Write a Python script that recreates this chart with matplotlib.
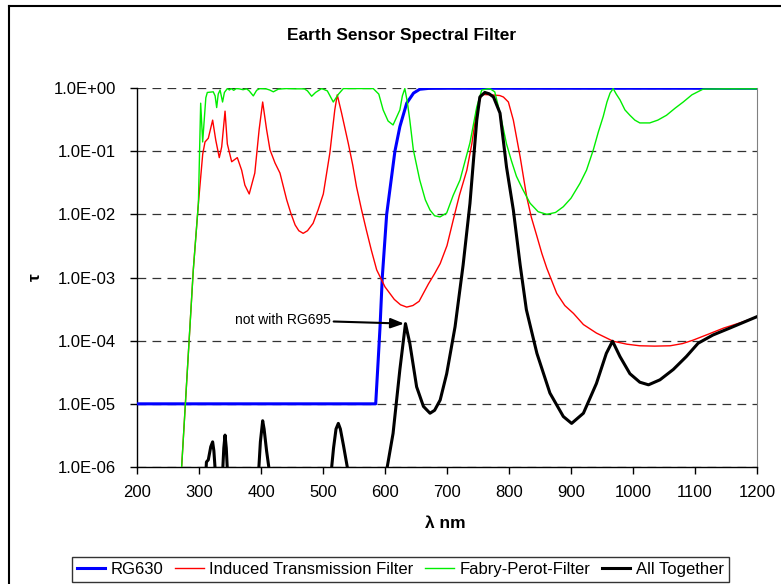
import numpy as np
import matplotlib
matplotlib.use("Agg")
import matplotlib.pyplot as plt
from matplotlib.ticker import FixedLocator, FuncFormatter, NullLocator
from matplotlib.lines import Line2D

plt.rcParams['font.family'] = ['Liberation Sans', 'DejaVu Sans']

# ---- spectral transmission data (wavelength in nm, transmission T) ----
rg630_nm = [200, 585, 589, 592, 595.6, 602.7, 616, 624, 635, 646, 656, 670, 700, 1200]
rg630_t = [1e-5, 1e-5, 4.9e-5, 1.66e-4, 1e-3, 1e-2, 0.1, 0.245, 0.575, 0.83, 0.955,
           0.985, 0.99, 0.99]

itf_nm = [266, 272, 290.8, 299, 306, 309.7, 315, 322, 327, 332.7, 336.6, 342, 345.7,
          352.7, 361.8, 368.8, 374, 381, 390, 397, 402.7, 409, 414.5, 422.6, 430.6,
          441.4, 448, 455, 461, 468, 475, 484, 492, 500.5, 511, 519, 523, 530, 541,
          548, 554, 562, 570, 578, 586.6, 600, 615, 625, 635, 645, 655, 670, 680,
          689, 700, 710, 720, 732, 740, 748, 756, 770, 785, 791, 799, 807, 818,
          828.5, 836, 845, 853, 861, 877, 890, 904, 920, 941, 968, 990, 1011, 1035,
          1060, 1080, 1097, 1120, 1146, 1175, 1200]
itf_t = [1e-7, 1e-6, 1.32e-3, 0.0148, 0.09, 0.14, 0.16, 0.31, 0.15, 0.079, 0.117,
         0.43, 0.13, 0.068, 0.079, 0.050, 0.029, 0.021, 0.045, 0.22, 0.60, 0.22,
         0.105, 0.065, 0.045, 0.017, 0.0105, 0.0068, 0.0055, 0.0050, 0.0055, 0.0072,
         0.0117, 0.021, 0.093, 0.45, 0.78, 0.40, 0.13, 0.06, 0.0275, 0.012, 0.0056,
         0.0027, 0.00132, 7.1e-4, 4.5e-4, 3.7e-4, 3.4e-4, 3.6e-4, 4.2e-4, 7.9e-4,
         1.15e-3, 1.66e-3, 3.2e-3, 8.1e-3, 0.02, 0.050, 0.13, 0.45, 0.79, 0.78,
         0.76, 0.72, 0.60, 0.31, 0.081, 0.019, 0.009, 0.0045, 0.0024, 0.0014,
         5.6e-4, 3.6e-4, 2.7e-4, 1.8e-4, 1.32e-4, 9.8e-5, 8.8e-5, 8.3e-5, 8.2e-5,
         8.3e-5, 9.0e-5, 1.02e-4, 1.25e-4, 1.58e-4, 1.95e-4, 2.4e-4]

fp_nm = [266, 272, 290.8, 299, 302.7, 305.9, 311, 313.4, 323, 326, 328.5, 331, 334,
         338, 341, 345.7, 349, 352, 356, 360, 365, 371, 376.9, 381, 387.6, 393, 398,
         408, 414, 419.9, 428, 441.4, 457.5, 470, 475, 481.7, 488, 497.8, 507,
         516.6, 525, 532.8, 550, 581, 590, 597, 605, 613, 619, 624, 628, 632, 636,
         640, 645.7, 656, 665, 672.6, 680, 688.7, 699.5, 710, 721, 730, 737, 748,
         756, 769, 777, 785.5, 796, 804, 812, 822, 834, 847, 861, 875, 887.6, 900,
         914.5, 925, 936, 944, 952, 958, 963, 968, 973, 979, 987, 995, 1003, 1011,
         1019, 1027, 1040, 1054, 1068, 1081, 1095, 1113, 1150, 1200]
fp_t = [1e-7, 1e-6, 1.32e-3, 0.0148, 0.575, 0.14, 0.7, 0.85, 0.87, 0.75, 0.49, 0.8,
        0.93, 0.60, 0.85, 0.98, 0.93, 0.98, 0.92, 0.98, 0.97, 0.94, 0.97, 0.9, 0.75,
        0.92, 0.98, 0.97, 0.93, 0.87, 0.96, 0.98, 0.97, 0.97, 0.9, 0.74, 0.85, 0.98,
        0.9, 0.60, 0.8, 0.98, 0.98, 0.98, 0.8, 0.45, 0.3, 0.26, 0.35, 0.45, 0.75,
        0.98, 0.6, 0.31, 0.105, 0.035, 0.017, 0.0117, 0.0095, 0.0091, 0.0105, 0.02,
        0.035, 0.075, 0.135, 0.5, 0.93, 0.98, 0.87, 0.40, 0.13, 0.07, 0.04, 0.025,
        0.015, 0.011, 0.0100, 0.0107, 0.0132, 0.018, 0.031, 0.05, 0.105, 0.2, 0.355,
        0.6, 0.83, 0.98, 0.8, 0.65, 0.45, 0.37, 0.31, 0.28, 0.28, 0.28, 0.31, 0.37,
        0.48, 0.6, 0.78, 0.96, 0.97, 0.97]

# combined curve; NaN separates the short bumps that rise above 1e-6
all_nm = [311, 312, 315, 319, 322, 324, 326.5, np.nan,
          338, 340, 342, 344, 346, np.nan,
          396, 399, 402.7, 405, 409, 414, np.nan,
          513, 517, 521, 524.7, 528, 533, 541, np.nan,
          602.7, 613, 624, 633, 640, 651, 662, 672.6, 680, 689, 699.5, 713, 726,
          737, 748, 753, 761, 768, 775, 785.5, 796, 807, 818, 828, 845, 866, 887.6,
          901, 920, 941, 957, 967, 979, 995, 1011, 1025, 1043.5, 1065, 1086, 1105,
          1129, 1156, 1200]
all_t = [7.9e-7, 1.2e-6, 1.3e-6, 2.1e-6, 2.5e-6, 1.8e-6, 7.9e-7, np.nan,
         7.9e-7, 2.0e-6, 3.2e-6, 2.0e-6, 7.9e-7, np.nan,
         7.9e-7, 2.5e-6, 5.4e-6, 4.0e-6, 1.8e-6, 7.9e-7, np.nan,
         7.9e-7, 2.0e-6, 4.0e-6, 4.9e-6, 4.0e-6, 2.2e-6, 7.9e-7, np.nan,
         8.9e-7, 3.4e-6, 3.5e-5, 1.86e-4, 9.1e-5, 1.86e-5, 9.1e-6, 7.1e-6, 7.9e-6,
         1.15e-5, 3.0e-5, 1.66e-4, 1.58e-3, 0.0148, 0.31, 0.72, 0.85, 0.81, 0.72,
         0.40, 0.056, 0.0117, 1.58e-3, 3.1e-4, 6.3e-5, 1.48e-5, 6.3e-6, 4.9e-6,
         7.1e-6, 2.1e-5, 6.3e-5, 9.8e-5, 5.6e-5, 3.0e-5, 2.2e-5, 2.0e-5, 2.4e-5,
         3.5e-5, 5.6e-5, 9.1e-5, 1.23e-4, 1.58e-4, 2.4e-4]

series_labels = ["RG630", "Induced Transmission Filter", "Fabry-Perot-Filter", "All Together"]
y_ticks = [1e-6, 1e-5, 1e-4, 1e-3, 1e-2, 1e-1, 1e0]
x_ticks = [200, 300, 400, 500, 600, 700, 800, 900, 1000, 1100, 1200]

W, H = 781, 584
fig = plt.figure(figsize=(W / 100, H / 100), dpi=100)
ax = fig.add_axes([137 / W, 1 - 467 / H, (757 - 137) / W, (467 - 88) / H])

ax.plot(rg630_nm, rg630_t, color="#0000ff", lw=2.2, label=series_labels[0], zorder=3)
ax.plot(itf_nm, itf_t, color="#ff0000", lw=1.0, label=series_labels[1], zorder=4)
ax.plot(fp_nm, fp_t, color="#00ee00", lw=1.0, label=series_labels[2], zorder=5)
ax.plot(all_nm, all_t, color="#000000", lw=2.2, label=series_labels[3], zorder=6)

ax.set_yscale("log")
ax.set_xlim(200, 1200)
ax.set_ylim(1e-6, 1e0)
ax.yaxis.set_major_locator(FixedLocator(y_ticks))
ax.yaxis.set_minor_locator(NullLocator())
ax.yaxis.set_major_formatter(FuncFormatter(
    lambda v, p: "1.0E{:+03d}".format(int(round(np.log10(v))))))
ax.xaxis.set_major_locator(FixedLocator(x_ticks))
ax.xaxis.set_minor_locator(NullLocator())

ax.tick_params(axis="both", direction="out", length=5, width=1, labelsize=12,
               colors="black")
ax.tick_params(axis="y", pad=10)
ax.tick_params(axis="x", pad=8)

for v in y_ticks:
    ax.axhline(v, color="#333333", lw=0.9, dashes=(7, 5), zorder=1)

ax.spines["top"].set_visible(False)
ax.spines["right"].set_color("#808080")
ax.spines["left"].set_linewidth(1.0)
ax.spines["bottom"].set_linewidth(1.0)

ax.annotate("not with RG695", xy=(633, 1.86e-4), xytext=(235 / W, 1 - 320 / H),
            textcoords="figure fraction", fontsize=10, va="center", ha="left",
            arrowprops=dict(arrowstyle="-|>,head_length=0.8,head_width=0.3",
                            color="black", lw=1.5, shrinkA=0, shrinkB=1),
            zorder=7)

fig.text(401.5 / W, 1 - 35.5 / H, "Earth Sensor Spectral Filter", ha="center",
         va="center", fontsize=12.5, fontweight="bold")
fig.text(445.5 / W, 1 - 523 / H, "\u03bb nm", ha="center", va="center",
         fontsize=12.5, fontweight="bold")
fig.text(35 / W, 1 - 277 / H, "\u03c4", ha="center", va="center", rotation=90,
         fontsize=12.5, fontweight="bold")

# outer chart frame
fig.add_artist(Line2D([9 / W, 9 / W], [0, 1 - 6 / H], color="black", lw=1.5,
                      transform=fig.transFigure))
fig.add_artist(Line2D([9 / W, 1], [1 - 6 / H, 1 - 6 / H], color="black", lw=1.5,
                      transform=fig.transFigure))

handles, labels = ax.get_legend_handles_labels()
order = [labels.index(s) for s in series_labels]
leg = fig.legend([handles[i] for i in order], [labels[i] for i in order],
                 loc="lower center", bbox_to_anchor=(400.5 / W, 2 / H), ncol=4,
                 fontsize=12, frameon=True, fancybox=False, edgecolor="black",
                 handlelength=1.7, handletextpad=0.35, columnspacing=0.7,
                 borderpad=0.3, borderaxespad=0)
leg.get_frame().set_linewidth(1.0)

fig.savefig("out.png", dpi=100)
